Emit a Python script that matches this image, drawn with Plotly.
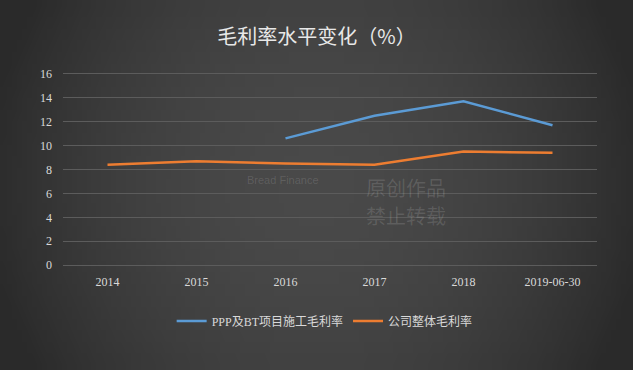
import base64
import struct
import zlib
import plotly.graph_objects as go

categories = ["2014", "2015", "2016", "2017", "2018", "2019-06-30"]
ppp_bt = [None, None, 10.6, 12.5, 13.7, 11.7]
company = [8.4, 8.7, 8.5, 8.4, 9.5, 9.4]
y_ticks = [0, 2, 4, 6, 8, 10, 12, 14, 16]


def gradient_png(w=128, h=32, center=0x49, edge=0x2a):
    rows = b""
    for j in range(h):
        row = b"\x00"
        dy = (j - (h - 1) / 2) / ((h - 1) / 2)
        for i in range(w):
            dx = (i - (w - 1) / 2) / ((w - 1) / 2)
            d = min(1.0, (dx * dx) * 0.9 + (dy * dy) * 0.25)
            v = int(round(center - (center - edge) * d))
            row += bytes([v, v, v])
        rows += row

    def chunk(tag, data):
        c = struct.pack(">I", len(data)) + tag + data
        return c + struct.pack(">I", zlib.crc32(tag + data) & 0xffffffff)

    png = b"\x89PNG\r\n\x1a\n"
    png += chunk(b"IHDR", struct.pack(">IIBBBBB", w, h, 8, 2, 0, 0, 0))
    png += chunk(b"IDAT", zlib.compress(rows, 9))
    png += chunk(b"IEND", b"")
    return "data:image/png;base64," + base64.b64encode(png).decode()


# plot area in pixels: left 63, top 72, width 534, height 195
PL, PT, PW, PH = 63, 72, 534, 195


def px(x):
    return (x - PL) / PW


def py(y):
    return (PT + PH - y) / PH


fig = go.Figure()
fig.add_trace(go.Scatter(x=categories, y=ppp_bt, mode="lines", name="PPP及BT项目施工毛利率",
                         line=dict(color="#5b9bd5", width=2.5)))
fig.add_trace(go.Scatter(x=categories, y=company, mode="lines", name="公司整体毛利率",
                         line=dict(color="#ed7d31", width=2.5)))

font_family = "'Liberation Serif', 'Times New Roman', 'Noto Sans CJK SC', serif"
wm = "rgba(255,255,255,0.13)"
fig.update_layout(
    width=633, height=370,
    paper_bgcolor="#3c3c3c", plot_bgcolor="rgba(0,0,0,0)",
    margin=dict(l=PL, r=633 - PL - PW, t=PT, b=370 - PT - PH),
    images=[dict(source=gradient_png(), xref="paper", yref="paper", x=px(0), y=py(0),
                 sizex=633 / PW, sizey=370 / PH, sizing="stretch", xanchor="left", yanchor="top",
                 layer="below")],
    annotations=[
        dict(text="原创作品", xref="paper", yref="paper", x=px(406), y=py(204), showarrow=False,
             font=dict(family="Noto Sans CJK SC", size=20, color=wm)),
        dict(text="禁止转载", xref="paper", yref="paper", x=px(406), y=py(232), showarrow=False,
             font=dict(family="Noto Sans CJK SC", size=20, color=wm)),
        dict(text="Bread Finance", xref="paper", yref="paper", x=px(283), y=py(180), showarrow=False,
             font=dict(family="Liberation Sans", size=11, color=wm)),
    ],
    title=dict(text="毛利率水平变化（%）", x=0.5, xanchor="center", y=0.9, yanchor="middle",
               font=dict(family="Noto Sans CJK SC", size=20, color="#e8e8e8")),
    xaxis=dict(type="category", range=[-0.5, 5.5], showgrid=False, zeroline=False, showline=False,
               tickfont=dict(family=font_family, size=12, color="#d9d9d9"), ticks="",
               ticklabelstandoff=6),
    yaxis=dict(range=[-0.15, 16.15], tickvals=y_ticks, showgrid=True, gridcolor="#5c5c5c", gridwidth=1,
               zeroline=False, showline=False, ticks="", ticklabelstandoff=10,
               tickfont=dict(family=font_family, size=12, color="#d9d9d9")),
    legend=dict(orientation="h", x=0.49, xanchor="center", y=py(321), yanchor="middle",
                font=dict(family=font_family, size=12, color="#d9d9d9"),
                itemwidth=30, bgcolor="rgba(0,0,0,0)"),
    showlegend=True,
)
fig.write_html("out.html")
